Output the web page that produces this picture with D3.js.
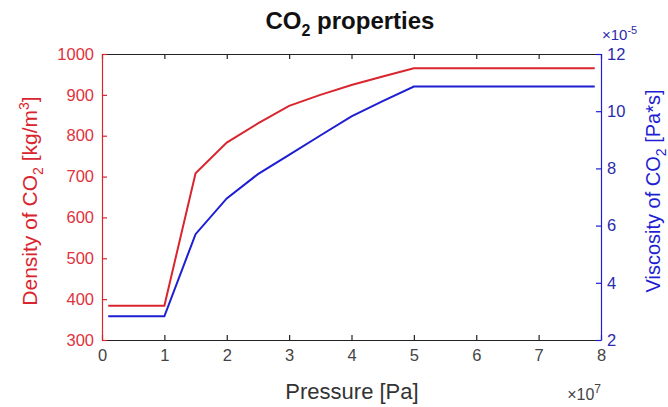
<!DOCTYPE html>
<html>
<head>
<meta charset="utf-8">
<script src="https://cdn.jsdelivr.net/npm/d3@7"></script>
<style>
  body { margin: 0; background: #fff; }
  svg text { font-family: "Liberation Sans", Arial, sans-serif; }
</style>
</head>
<body>
<div class="chart"></div>
<script>
// pressure in units of 1e7 Pa
const pressure  = [0.1, 1, 1.5, 2, 2.5, 3, 3.5, 4, 4.5, 5, 7.9];
// density in kg/m^3
const density   = [384, 384, 708, 783, 830, 873, 900, 924, 945, 965, 965];
// viscosity in units of 1e-5 Pa*s
const viscosity = [2.83, 2.83, 5.7, 6.95, 7.8, 8.47, 9.15, 9.82, 10.35, 10.86, 10.86];

const xTicks = [0, 1, 2, 3, 4, 5, 6, 7, 8];
const leftTicks = [300, 400, 500, 600, 700, 800, 900, 1000];
const rightTicks = [2, 4, 6, 8, 10, 12];

const svgSize = { width: 668, height: 407 };
const plot = { left: 102, right: 601, top: 54, bottom: 340 };

const red = '#d9252e';
const redText = '#e0323c';
const blue = '#1e1ed2';
const blueText = '#2b2bab';

const svg = d3.select('.chart')
    .append('svg')
    .attr('width', svgSize.width)
    .attr('height', svgSize.height)
;

const x = d3.scaleLinear().domain([0, 8]).range([plot.left, plot.right]);
const yL = d3.scaleLinear().domain([300, 1000]).range([plot.bottom, plot.top]);
const yR = d3.scaleLinear().domain([2, 12]).range([plot.bottom, plot.top]);

const styleAxis = (g, color, textColor) => {
    g.select('.domain').attr('stroke', color).attr('stroke-width', 1.2);
    g.selectAll('.tick line').attr('stroke', color).attr('stroke-width', 1.2);
    g.selectAll('.tick text')
        .attr('fill', textColor)
        .style('font-size', '16.5px')
        .style('font-family', '"Liberation Sans", Arial, sans-serif');
};

// bottom
svg.append('g')
    .attr('transform', `translate(0, ${plot.bottom})`)
    .call(d3.axisBottom(x).tickValues(xTicks).tickFormat(d3.format('d')).tickSizeInner(-5).tickSizeOuter(0).tickPadding(9))
    .call(g => styleAxis(g, '#222', '#444'));

// top (ticks only)
svg.append('g')
    .attr('transform', `translate(0, ${plot.top})`)
    .call(d3.axisTop(x).tickValues(xTicks).tickSizeInner(-5).tickSizeOuter(0).tickFormat(''))
    .call(g => styleAxis(g, '#222', '#444'));

// left
svg.append('g')
    .attr('transform', `translate(${plot.left}, 0)`)
    .call(d3.axisLeft(yL).tickValues(leftTicks).tickFormat(d3.format('d')).tickSizeInner(-5).tickSizeOuter(0).tickPadding(8))
    .call(g => styleAxis(g, red, redText));

// right
svg.append('g')
    .attr('transform', `translate(${plot.right}, 0)`)
    .call(d3.axisRight(yR).tickValues(rightTicks).tickFormat(d3.format('d')).tickSizeInner(-5).tickSizeOuter(0).tickPadding(6))
    .call(g => styleAxis(g, blue, blueText));

// lines
const densLine = d3.line()
    .x((d, i) => x(pressure[i]))
    .y(d => yL(d));
const viscLine = d3.line()
    .x((d, i) => x(pressure[i]))
    .y(d => yR(d));

svg.append('path')
    .datum(density)
    .attr('d', densLine)
    .attr('fill', 'none')
    .attr('stroke', red)
    .attr('stroke-width', 2);

svg.append('path')
    .datum(viscosity)
    .attr('d', viscLine)
    .attr('fill', 'none')
    .attr('stroke', blue)
    .attr('stroke-width', 2);

// title
const title = svg.append('text')
    .attr('x', 350)
    .attr('y', 29)
    .attr('text-anchor', 'middle')
    .attr('fill', '#111')
    .style('font-size', '24px')
    .style('font-weight', 'bold');
title.append('tspan').text('CO');
title.append('tspan').attr('dy', 7).style('font-size', '16px').text('2');
title.append('tspan').attr('dy', -7).text(' properties');

// x label
svg.append('text')
    .attr('x', 352)
    .attr('y', 399)
    .attr('text-anchor', 'middle')
    .attr('fill', '#333')
    .style('font-size', '22px')
    .text('Pressure [Pa]');

// left label
const lLab = svg.append('text')
    .attr('transform', 'translate(37, 201) rotate(-90)')
    .attr('text-anchor', 'middle')
    .attr('fill', red)
    .style('font-size', '21px');
lLab.append('tspan').text('Density of CO');
lLab.append('tspan').attr('dy', 6).style('font-size', '14px').text('2');
lLab.append('tspan').attr('dy', -6).text(' [kg/m');
lLab.append('tspan').attr('dy', -8).style('font-size', '14px').text('3');
lLab.append('tspan').attr('dy', 8).text(']');

// right label
const rLab = svg.append('text')
    .attr('transform', 'translate(660, 191) rotate(-90)')
    .attr('text-anchor', 'middle')
    .attr('fill', blue)
    .style('font-size', '20px');
rLab.append('tspan').text('Viscosity of CO');
rLab.append('tspan').attr('dy', 6).style('font-size', '14px').text('2');
rLab.append('tspan').attr('dy', -6).text(' [Pa*s]');

// exponents
const xExp = svg.append('text')
    .attr('x', 601)
    .attr('y', 400)
    .attr('text-anchor', 'end')
    .attr('fill', '#444')
    .style('font-size', '16px');
xExp.append('tspan').text('\u00d710');
xExp.append('tspan').attr('dy', -7).style('font-size', '12px').text('7');

const yExp = svg.append('text')
    .attr('x', 602)
    .attr('y', 40)
    .attr('fill', blueText)
    .style('font-size', '15px');
yExp.append('tspan').text('\u00d710');
yExp.append('tspan').attr('dy', -6).style('font-size', '11px').text('-5');
</script>
</body>
</html>
